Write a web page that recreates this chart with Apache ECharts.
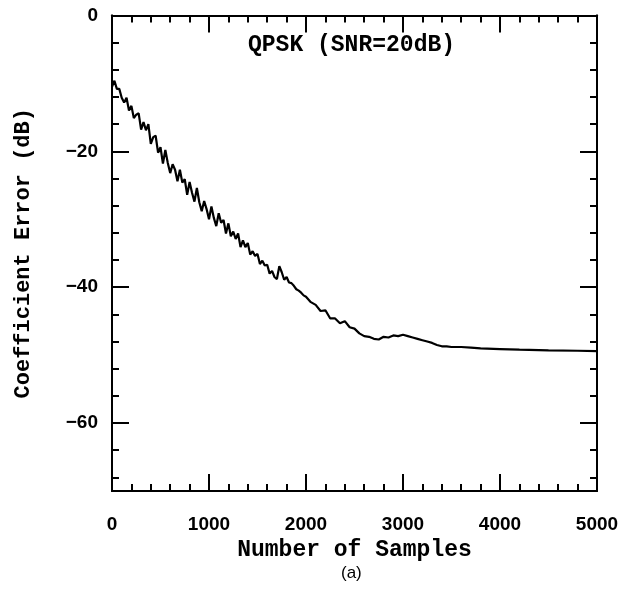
<!DOCTYPE html>
<html><head><meta charset="utf-8">
<script src="https://cdn.jsdelivr.net/npm/echarts@6/dist/echarts.min.js"></script>
<style>html,body{margin:0;padding:0;background:#fff}#c{width:638px;height:594px}</style>
</head><body><div id="c"></div>
<script>
const samples = [0,25,50,75,100,125,150,175,200,225,250,275,300,325,350,375,400,425,450,475,500,525,550,575,600,625,650,675,700,725,750,775,800,825,850,875,900,925,950,975,1000,1025,1050,1075,1100,1125,1150,1175,1200,1225,1250,1275,1300,1325,1350,1375,1400,1425,1450,1475,1500,1525,1550,1575,1600,1625,1650,1675,1700,1725,1750,1775,1800,1825,1850,1875,1900,1925,1950,1975,2000,2050,2100,2150,2200,2250,2300,2350,2400,2450,2500,2550,2600,2650,2700,2750,2800,2850,2900,2950,3000,3050,3100,3150,3200,3250,3300,3350,3400,3450,3500,3600,3700,3800,4000,4200,4500,4800,5000];
const errorDb = [-10.5,-9.6,-10.8,-10.8,-12.1,-12.8,-12.1,-14.0,-13.3,-15.1,-14.6,-14.4,-16.8,-15.7,-16.9,-16.0,-18.9,-17.9,-17.7,-20.2,-19.4,-21.8,-19.8,-21.7,-23.2,-21.9,-22.7,-24.4,-22.7,-24.6,-24.1,-26.4,-24.5,-26.1,-27.4,-25.4,-27.5,-28.8,-27.3,-28.5,-30.0,-28.1,-29.8,-31.0,-29.1,-30.5,-30.1,-32.1,-30.6,-32.5,-31.8,-32.9,-32.1,-34.1,-33.1,-34.1,-33.5,-35.2,-34.7,-35.4,-35.1,-36.6,-36.1,-36.8,-36.7,-38.0,-37.6,-38.5,-38.8,-36.9,-37.8,-38.9,-38.5,-39.3,-39.4,-39.8,-40.3,-40.5,-40.8,-41.2,-41.4,-42.2,-42.6,-43.5,-43.4,-44.6,-44.6,-45.3,-45.0,-45.9,-46.1,-46.8,-47.2,-47.3,-47.6,-47.7,-47.3,-47.4,-47.1,-47.2,-47.0,-47.2,-47.4,-47.6,-47.8,-48.0,-48.2,-48.5,-48.7,-48.7,-48.8,-48.8,-48.9,-49.0,-49.1,-49.2,-49.3,-49.35,-49.4];
const yMajorTicks = [0,-20,-40,-60];
const yMinorTicks = [-4,-8,-12,-16,-24,-28,-32,-36,-44,-48,-52,-56,-64,-68];
const titleText = 'QPSK (SNR=20dB)';
const xName = 'Number of Samples';
const yName = 'Coefficient Error (dB)';
const caption = '(a)';

const chart = echarts.init(document.getElementById('c'), null, {renderer:'canvas'});
const lineStyle = {color:'#000', width:2};
const monoFont = '"Liberation Mono", "DejaVu Sans Mono", monospace';
const sansFont = '"Liberation Sans", Arial, sans-serif';
function xAx(pos, show){
  return {type:'value', position:pos, min:0, max:5000, interval:1000,
    axisLine:{show:true, onZero:false, lineStyle},
    axisTick:{show:true, inside:true, length:17, lineStyle},
    minorTick:{show:true, splitNumber:5, length:7, lineStyle:{color:'#000', width:2}},
    splitLine:{show:false},
    axisLabel:{show:show, color:'#000', fontSize:19, fontWeight:'bold', fontFamily:sansFont, margin:24,
      formatter: v => String(v)},
    name: show ? xName : '', nameLocation:'middle', nameGap:48,
    nameTextStyle:{color:'#000', fontSize:23, fontWeight:'bold', fontFamily:monoFont}
  };
}
function yAx(pos, ticks, len, show){
  return {type:'value', position:pos, min:-70, max:0, interval:10,
    axisLine:{show:true, onZero:false, lineStyle},
    axisTick:{show:true, inside:true, length:len, customValues:ticks, lineStyle},
    splitLine:{show:false},
    axisLabel:{show:show, customValues:yMajorTicks, color:'#000', fontSize:19, fontWeight:'bold', fontFamily:sansFont, margin:14,
      formatter: v => String(v).replace('-', '\u2212')},
    name: show ? yName : '', nameLocation:'middle', nameGap:78, nameRotate:90,
    nameTextStyle:{color:'#000', fontSize:22, fontWeight:'bold', fontFamily:monoFont}
  };
}
chart.setOption({
  animation:false,
  backgroundColor:'#fff',
  grid:{left:112, right:41, top:15.5, bottom:103, containLabel:false},
  xAxis:[xAx('bottom', true), xAx('top', false)],
  yAxis:[yAx('left', yMajorTicks, 17, true), yAx('left', yMinorTicks, 7, false),
         yAx('right', yMajorTicks, 17, false), yAx('right', yMinorTicks, 7, false)],
  graphic:[
    {type:'text', left:248, top:34, style:{text:titleText, fill:'#000', font:'bold 23px ' + monoFont}},
    {type:'text', left:341, top:565, style:{text:caption, fill:'#000', font:'17px ' + sansFont}}
  ],
  series:[{type:'line', xAxisIndex:0, yAxisIndex:0, showSymbol:false, symbol:'none',
    data: samples.map((s,i)=>[s, errorDb[i]]), lineStyle:{color:'#000', width:2.2}}]
});
</script></body></html>
